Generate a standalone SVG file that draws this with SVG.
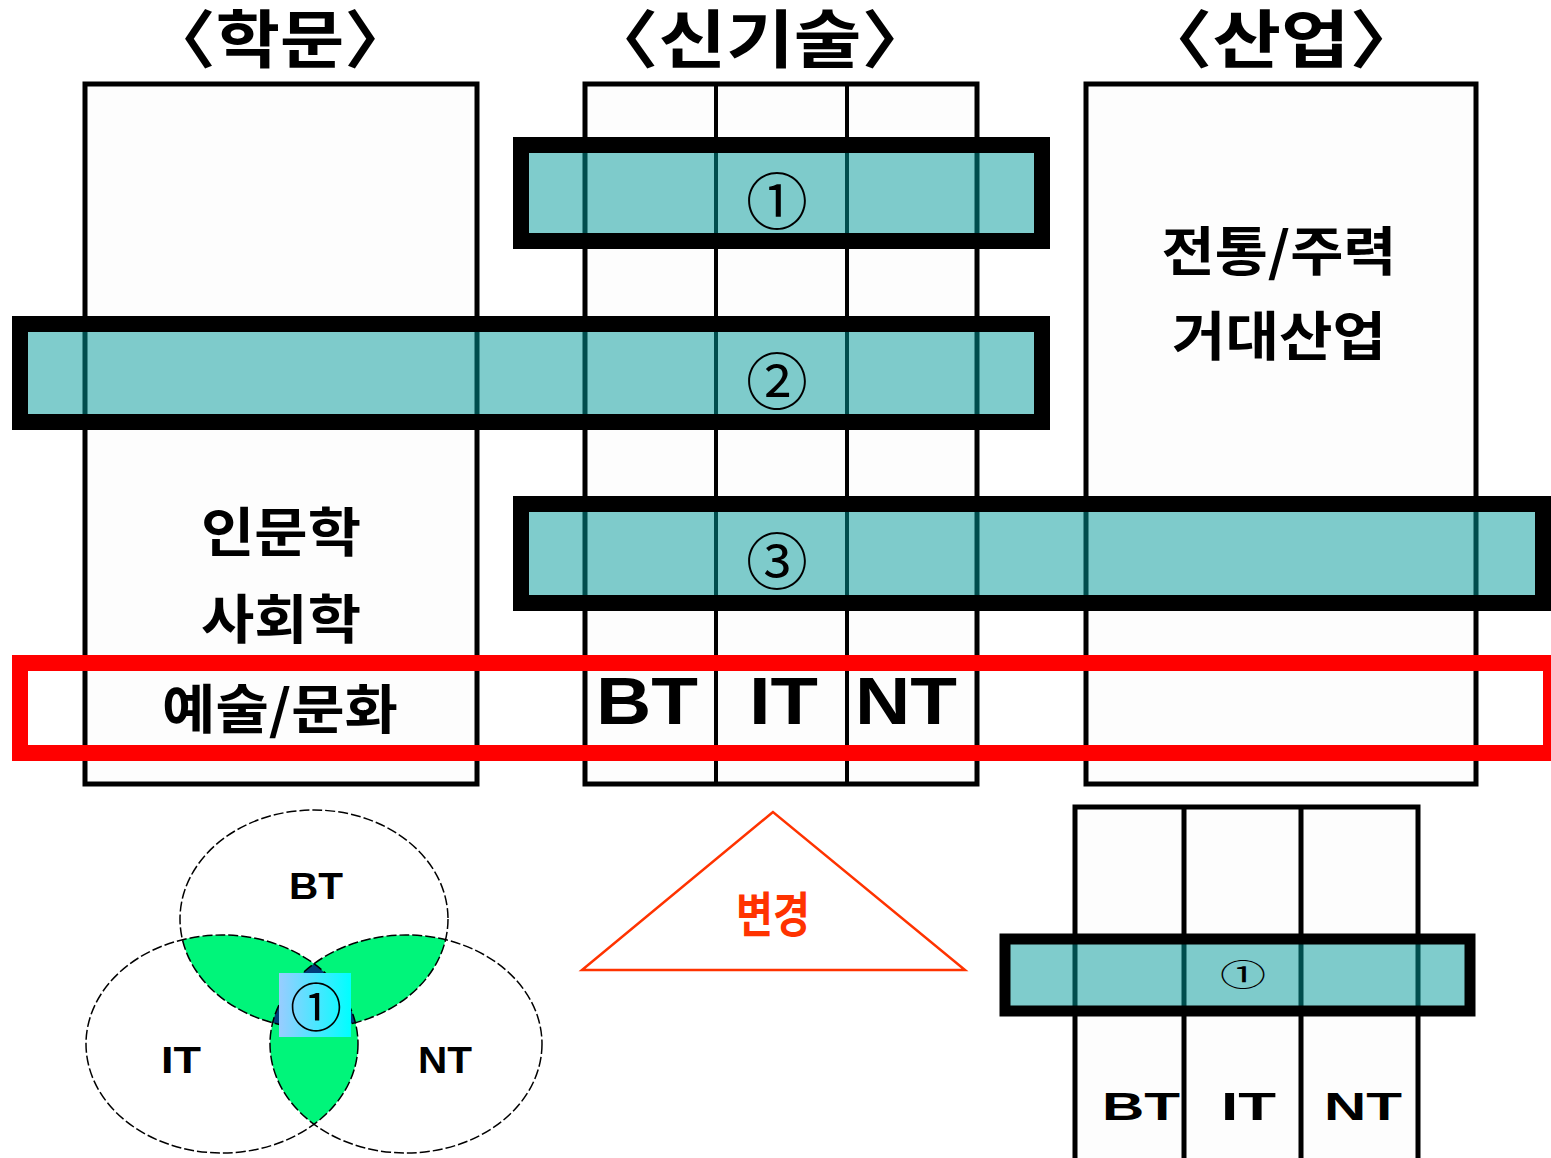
<svg xmlns="http://www.w3.org/2000/svg" width="1551" height="1158" viewBox="0 0 1551 1158">
<style>
.box{fill:#fdfdfd;stroke:#000;stroke-width:5}
.div{stroke:#000;stroke-width:4}
.bar{fill:#009999;fill-opacity:0.5;stroke:#000;stroke-width:16}
.kr{font-family:"Noto Sans CJK KR","Noto Sans",sans-serif;font-weight:bold;fill:#000;text-anchor:middle;dominant-baseline:central}
.ttl{font-size:63px}
.lab{font-size:53px}
.num{font-family:"Noto Sans CJK KR","DejaVu Sans",sans-serif;font-weight:normal;fill:#000;text-anchor:middle;dominant-baseline:central}
.en{font-family:"Liberation Sans",Arial,sans-serif;font-weight:bold;fill:#000}
.venn{fill:none;stroke:#000;stroke-width:1.5;stroke-dasharray:10 3}
</style>
<defs>
<clipPath id="cBT"><ellipse cx="314" cy="919" rx="134" ry="109"/></clipPath>
<clipPath id="cIT"><ellipse cx="222" cy="1044" rx="136" ry="109"/></clipPath>
<linearGradient id="sq" x1="0" y1="0" x2="1" y2="0"><stop offset="0" stop-color="#99ccff"/><stop offset="1" stop-color="#00ffff"/></linearGradient>
</defs>

<g id="titles">
<text class="kr ttl" x="280" y="34" textLength="268" lengthAdjust="spacingAndGlyphs">〈학문〉</text>
<text class="kr ttl" x="760" y="34" textLength="350" lengthAdjust="spacingAndGlyphs">〈신기술〉</text>
<text class="kr ttl" x="1281" y="34" textLength="286" lengthAdjust="spacingAndGlyphs">〈산업〉</text>
</g>

<g id="box-hakmun"><rect class="box" x="85" y="84" width="392" height="700"/></g>
<g id="box-singisul">
<rect class="box" x="585" y="84" width="392" height="700"/>
<line class="div" x1="716" y1="84" x2="716" y2="784"/>
<line class="div" x1="847" y1="84" x2="847" y2="784"/>
</g>
<g id="box-saneop"><rect class="box" x="1086" y="84" width="390" height="700"/></g>

<g id="bar1"><rect class="bar" x="521" y="145" width="521" height="96"/>
<text class="num" x="777" y="198" font-size="62">①</text></g>
<g id="bar2"><rect class="bar" x="20" y="324" width="1022" height="98"/>
<text class="num" x="777" y="378" font-size="62">②</text></g>
<g id="bar3"><rect class="bar" x="521" y="504" width="1022" height="99"/>
<text class="num" x="777" y="558" font-size="62">③</text></g>

<g id="highlight"><rect x="20" y="663" width="1531" height="90" fill="none" stroke="#ff0000" stroke-width="16"/></g>

<g id="labels">
<text class="kr lab" x="281" y="529" textLength="160" lengthAdjust="spacingAndGlyphs">인문학</text>
<text class="kr lab" x="281" y="616" textLength="160" lengthAdjust="spacingAndGlyphs">사회학</text>
<text class="kr lab" x="280" y="706" textLength="236" lengthAdjust="spacingAndGlyphs">예술/문화</text>
<text class="kr lab" x="1279" y="248" textLength="235" lengthAdjust="spacingAndGlyphs">전통/주력</text>
<text class="kr lab" x="1279" y="333" textLength="214" lengthAdjust="spacingAndGlyphs">거대산업</text>
<text class="en" x="596" y="724" font-size="67" textLength="102" lengthAdjust="spacingAndGlyphs">BT</text>
<text class="en" x="749" y="724" font-size="67" textLength="69" lengthAdjust="spacingAndGlyphs">IT</text>
<text class="en" x="855" y="724" font-size="67" textLength="102" lengthAdjust="spacingAndGlyphs">NT</text>
</g>

<g id="venn">
<g clip-path="url(#cBT)">
<ellipse cx="222" cy="1044" rx="136" ry="109" fill="#00f57a"/>
<ellipse cx="406" cy="1044" rx="136" ry="109" fill="#00f57a"/>
</g>
<g clip-path="url(#cIT)"><ellipse cx="406" cy="1044" rx="136" ry="109" fill="#00f57a"/></g>
<g clip-path="url(#cBT)"><g clip-path="url(#cIT)"><ellipse cx="406" cy="1044" rx="136" ry="109" fill="#003c78"/></g></g>
<ellipse class="venn" cx="314" cy="919" rx="134" ry="109"/>
<ellipse class="venn" cx="222" cy="1044" rx="136" ry="109"/>
<ellipse class="venn" cx="406" cy="1044" rx="136" ry="109"/>
<rect x="279" y="973" width="72" height="64" fill="url(#sq)"/>
<text class="num" x="316" y="1004" font-size="52">①</text>
<text class="en" x="289" y="899" font-size="37" textLength="54" lengthAdjust="spacingAndGlyphs">BT</text>
<text class="en" x="161" y="1073" font-size="37" textLength="40" lengthAdjust="spacingAndGlyphs">IT</text>
<text class="en" x="418" y="1073" font-size="37" textLength="54" lengthAdjust="spacingAndGlyphs">NT</text>
</g>

<g id="change">
<polygon points="773,812 582,970 965,970" fill="none" stroke="#ff3300" stroke-width="2.5"/>
<text class="kr" x="773" y="911" font-size="48" style="fill:#ff3300" textLength="74" lengthAdjust="spacingAndGlyphs">변경</text>
</g>

<g id="new-model">
<rect x="1075" y="807" width="343" height="360" fill="#fdfdfd" stroke="#000" stroke-width="5"/>
<line x1="1184" y1="807" x2="1184" y2="1158" stroke="#000" stroke-width="5"/>
<line x1="1301" y1="807" x2="1301" y2="1158" stroke="#000" stroke-width="5"/>
<rect x="1005" y="939" width="465" height="72" fill="#009999" fill-opacity="0.5" stroke="#000" stroke-width="11"/>
<text class="num" x="1243" y="973" font-size="46" transform="translate(1243 973) scale(1 0.66) translate(-1243 -973)">①</text>
<text class="en" x="1102" y="1120" font-size="39" textLength="78" lengthAdjust="spacingAndGlyphs">BT</text>
<text class="en" x="1221" y="1120" font-size="39" textLength="55" lengthAdjust="spacingAndGlyphs">IT</text>
<text class="en" x="1324" y="1120" font-size="39" textLength="78" lengthAdjust="spacingAndGlyphs">NT</text>
</g>
</svg>
